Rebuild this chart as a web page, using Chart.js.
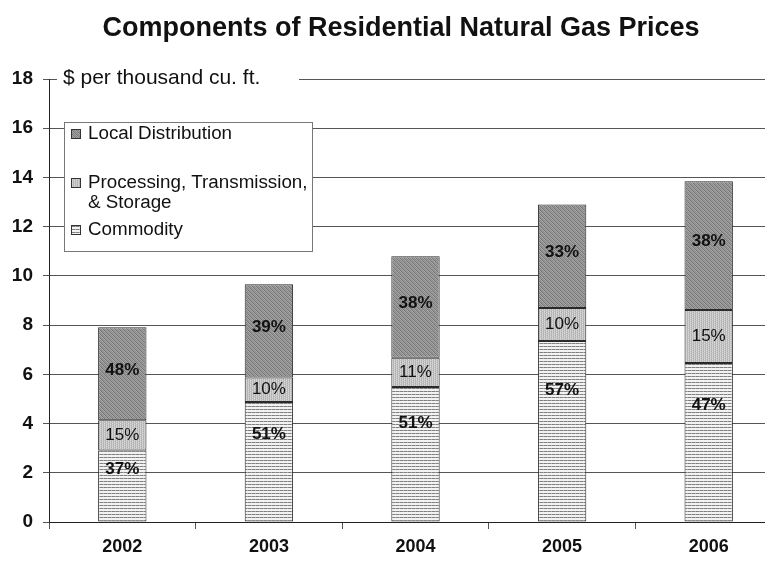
<!DOCTYPE html>
<html><head><meta charset="utf-8">
<script src="https://cdn.jsdelivr.net/npm/chart.js@4.4.1/dist/chart.umd.min.js"></script>
<style>
html,body{margin:0;padding:0;overflow:hidden;background:#fff}
#wrap{width:784px;height:564px;position:relative}
</style>
</head><body><div id="wrap"><canvas id="c"></canvas></div>
<script>
// ---- data ----
const years = ['2002', '2003', '2004', '2005', '2006'];
const commodity = [2.91, 4.88, 5.49, 7.35, 6.46];
const processing = [1.22, 0.99, 1.18, 1.35, 2.15];
const localDist = [3.78, 3.79, 4.13, 4.20, 5.24];
const commodityPct = ['37%', '51%', '51%', '57%', '47%'];
const processingPct = ['15%', '10%', '11%', '10%', '15%'];
const localPct = ['48%', '39%', '38%', '33%', '38%'];
const seriesNames = ['Commodity', 'Processing, Transmission,\n& Storage', 'Local Distribution'];
const yMin = 0, yMax = 18, yStep = 2;
const titleText = 'Components of Residential Natural Gas Prices';
const unitText = '$ per thousand cu. ft.';

// ---- textures ----
function makePattern(w, h, draw) {
  const c = document.createElement('canvas');
  c.width = w; c.height = h;
  const g = c.getContext('2d');
  draw(g);
  return g.createPattern(c, 'repeat');
}
const patCommodity = makePattern(4, 3, g => {
  g.fillStyle = '#f2f2f2'; g.fillRect(0, 0, 4, 3);
  g.fillStyle = '#808080'; g.fillRect(0, 1, 3, 1);
  g.fillStyle = '#aaaaaa'; g.fillRect(3, 1, 1, 1);
});
const patProcessing = makePattern(4, 4, g => {
  const cols = ['#c8c8c8','#b0b0b0','#d8d8d8','#bcbcbc'];
  for (let y = 0; y < 4; y++) for (let x = 0; x < 4; x++) {
    g.fillStyle = cols[(x + 2 * y) % 4]; g.fillRect(x, y, 1, 1);
  }
});
const patLocal = makePattern(4, 4, g => {
  const cols = ['#8c8c8c','#a8a8a8','#767676','#989898'];
  for (let y = 0; y < 4; y++) for (let x = 0; x < 4; x++) {
    g.fillStyle = cols[(x + 3 * y) % 4]; g.fillRect(x, y, 1, 1);
  }
});

const FONT = '"Liberation Sans", Arial, sans-serif';

// ---- value labels inside segments ----
const labelPlugin = {
  id: 'segLabels',
  afterDatasetsDraw(chart) {
    const ctx = chart.ctx;
    const sets = [
      {pct: commodityPct, bold: true, frac: 0.27, shift: 0},
      {pct: processingPct, bold: false, frac: 0.5, shift: 0},
      {pct: localPct, bold: true, frac: 0.5, shift: -4}
    ];
    ctx.save();
    ctx.fillStyle = '#111';
    ctx.textAlign = 'center';
    ctx.textBaseline = 'middle';
    sets.forEach((s, di) => {
      const meta = chart.getDatasetMeta(di);
      ctx.font = (s.bold ? 'bold ' : '') + '17px ' + FONT;
      meta.data.forEach((bar, i) => {
        const p = bar.getProps(['x', 'y', 'base'], true);
        const top = Math.min(p.y, p.base), h = Math.abs(p.base - p.y);
        ctx.fillText(s.pct[i], p.x, top + h * s.frac + s.shift);
      });
    });
    ctx.restore();
  }
};

// ---- title, unit label and custom legend ----
const decoPlugin = {
  id: 'deco',
  afterDraw(chart) {
    const ctx = chart.ctx, ca = chart.chartArea;
    const ys = chart.scales.y;
    ctx.save();
    // title
    ctx.fillStyle = '#111';
    ctx.font = 'bold 27px ' + FONT;
    ctx.textAlign = 'center';
    ctx.textBaseline = 'middle';
    ctx.fillText(titleText, 401, 29);

    // unit text over top gridline
    const y18 = ys.getPixelForValue(yMax);
    ctx.fillStyle = '#fff';
    ctx.fillRect(ca.left + 8, y18 - 12, 242, 22);
    ctx.fillStyle = '#111';
    ctx.font = '21px ' + FONT;
    ctx.textAlign = 'left';
    ctx.fillText(unitText, ca.left + 14, y18 - 1);

    // legend box
    const lx = 64, ly = 122, lw = 248, lh = 129;
    ctx.fillStyle = '#fff';
    ctx.fillRect(lx, ly, lw, lh);
    ctx.strokeStyle = '#777';
    ctx.lineWidth = 1;
    ctx.strokeRect(lx + 0.5, ly + 0.5, lw, lh);
    const entries = [
      {ds: 2, y: 134},
      {ds: 1, y: 183},
      {ds: 0, y: 230}
    ];
    ctx.font = '18.8px ' + FONT;
    entries.forEach(e => {
      const d = chart.data.datasets[e.ds];
      ctx.fillStyle = d.backgroundColor;
      ctx.fillRect(71, e.y - 5, 10, 10);
      ctx.strokeStyle = '#333';
      ctx.strokeRect(71.5, e.y - 4.5, 9, 9);
      ctx.fillStyle = '#111';
      const lines = seriesNames[e.ds].split('\n');
      lines.forEach((t, k) => ctx.fillText(t, 88, e.y + k * 20));
    });
    ctx.restore();
  }
};

const mk = (label, data, bg) => ({
  label, data, backgroundColor: bg, borderColor: '#2a2a2a', borderWidth: 1,
  barPercentage: 0.33, categoryPercentage: 1.0, borderSkipped: false
});

new Chart(document.getElementById('c'), {
  type: 'bar',
  data: {
    labels: years,
    datasets: [
      mk(seriesNames[0], commodity, patCommodity),
      mk(seriesNames[1], processing, patProcessing),
      mk(seriesNames[2], localDist, patLocal)
    ]
  },
  options: {
    responsive: true,
    maintainAspectRatio: false,
    animation: false,
    devicePixelRatio: 1,
    layout: {padding: {left: 0, right: 2, top: 79, bottom: 0}},
    plugins: {
      legend: {display: false},
      tooltip: {enabled: false},
      title: {display: false}
    },
    scales: {
      x: {
        stacked: true,
        afterFit(s) { s.height = 42; },
        grid: {display: true, drawOnChartArea: false, drawTicks: true, tickLength: 7, color: '#555', offset: true},
        border: {display: true, color: '#222', width: 1},
        ticks: {color: '#111', font: {family: FONT, size: 18, weight: 'bold'}, padding: 7}
      },
      y: {
        stacked: true,
        min: yMin, max: yMax,
        afterFit(s) { s.width = 49; },
        grid: {color: '#555', lineWidth: 1, tickLength: 6},
        border: {display: true, color: '#222', width: 1},
        ticks: {stepSize: yStep, color: '#111', padding: 10, font: {family: FONT, size: 19, weight: 'bold'}}
      }
    }
  },
  plugins: [labelPlugin, decoPlugin]
});
</script>
</body></html>
